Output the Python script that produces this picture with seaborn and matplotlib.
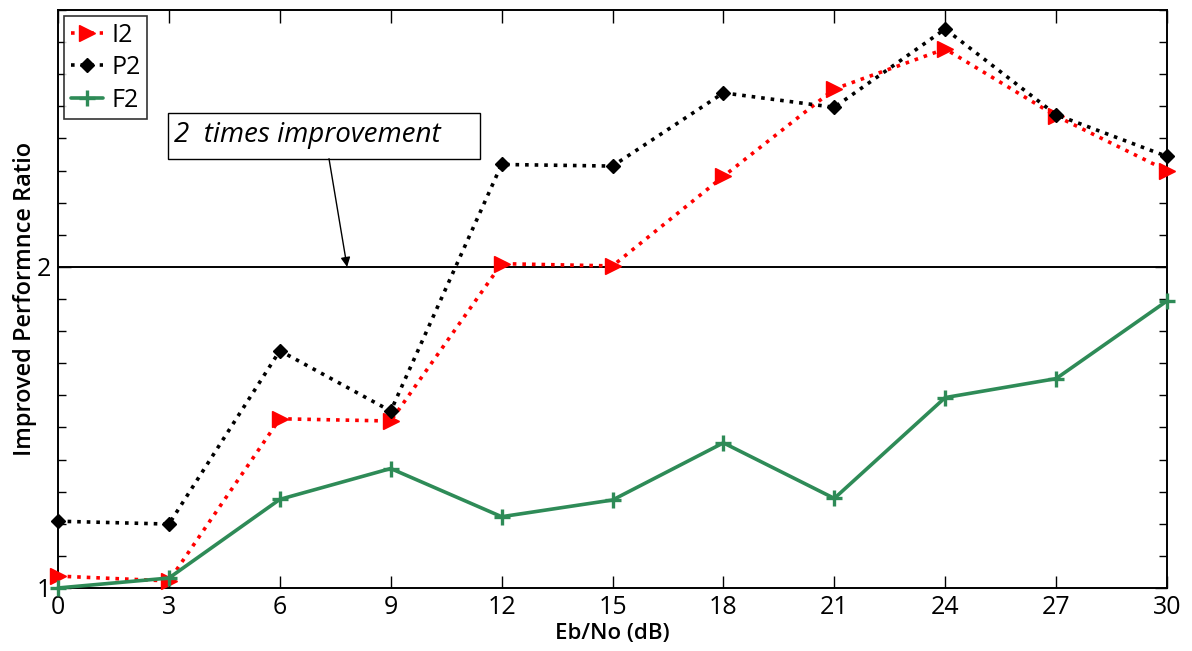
import numpy as np
import pandas as pd
import matplotlib
matplotlib.use("Agg")
import matplotlib.pyplot as plt
from matplotlib.patches import Rectangle
from matplotlib.ticker import MultipleLocator, FixedLocator
import seaborn as sns

# Eb/No values (dB)
ebno = [0, 3, 6, 9, 12, 15, 18, 21, 24, 27, 30]

# Improved performance ratio per scheme
i2 = [1.037, 1.022, 1.527, 1.520, 2.010, 2.003, 2.282, 2.554, 2.679, 2.470, 2.300]
p2 = [1.208, 1.199, 1.739, 1.551, 2.319, 2.314, 2.542, 2.497, 2.741, 2.474, 2.344]
f2 = [1.000, 1.031, 1.276, 1.372, 1.222, 1.274, 1.452, 1.279, 1.593, 1.652, 1.894]

series_names = ["I2", "P2", "F2"]
reference_level = 2.0
x_ticks = [0, 3, 6, 9, 12, 15, 18, 21, 24, 27, 30]
y_ticks = [1, 2]

df = pd.DataFrame({
    "ebno": ebno * 3,
    "ratio": i2 + p2 + f2,
    "scheme": [s for s in series_names for _ in ebno],
})

sns.set_theme(style="white")
plt.rcParams["font.family"] = ["Open Sans", "DejaVu Sans"]
for key in ("text.color", "axes.labelcolor", "xtick.color", "ytick.color"):
    plt.rcParams[key] = "black"

fig = plt.figure(figsize=(11.92, 6.51), dpi=100)
ax = fig.add_axes([0.0487, 0.0968, 0.9790 - 0.0487, 0.9846 - 0.0968])

styles = {
    "I2": dict(color="#ff0000", linestyle=":", marker=">", markersize=11, linewidth=2.6),
    "P2": dict(color="#000000", linestyle=":", marker="D", markersize=7, linewidth=2.6),
    "F2": dict(color="#2e8b57", linestyle="-", marker="+", markersize=12,
               linewidth=2.6, markeredgewidth=2.4),
}

for name in series_names:
    sub = df[df["scheme"] == name]
    st = styles[name]
    sns.lineplot(data=sub, x="ebno", y="ratio", ax=ax, label=name,
                 color=st["color"], linestyle=st["linestyle"],
                 marker=st["marker"], markersize=st["markersize"],
                 linewidth=st["linewidth"],
                 markeredgewidth=st.get("markeredgewidth", 1.0),
                 markeredgecolor=st["color"], clip_on=False, zorder=3)

ax.axhline(reference_level, color="black", linewidth=1.4, zorder=2)

ax.set_xlim(0, 30)
ax.set_ylim(1, 2.8)
ax.xaxis.set_major_locator(FixedLocator(x_ticks))
ax.yaxis.set_major_locator(FixedLocator(y_ticks))
ax.yaxis.set_minor_locator(MultipleLocator(0.1))
ax.set_xticklabels([str(t) for t in x_ticks])
ax.set_yticklabels([str(t) for t in y_ticks])

ax.tick_params(axis="both", which="both", direction="in", top=True, right=True,
               bottom=True, left=True, color="black", width=1.0)
ax.tick_params(axis="x", which="major", length=9, labelsize=18, pad=5)
ax.tick_params(axis="y", which="major", length=9, labelsize=18, pad=5)
ax.tick_params(axis="y", which="minor", length=6)

for sp in ax.spines.values():
    sp.set_color("black")
    sp.set_linewidth(1.4)

ax.set_xlabel("Eb/No (dB)", fontsize=16, fontweight="semibold", labelpad=2)
ax.set_ylabel("Improved Performnce Ratio", fontsize=17, fontweight="semibold", labelpad=0)

# annotation box with arrow pointing at the 2x reference line
ax.add_patch(Rectangle((2.98, 2.337), 11.42 - 2.98, 2.478 - 2.337,
                       facecolor="white", edgecolor="black", linewidth=1.0,
                       zorder=4))
ax.text(3.15, 2.41, "2  times improvement", fontsize=20, fontstyle="italic",
        va="center", ha="left", zorder=5)
ax.annotate("", xy=(7.82, reference_level), xytext=(7.33, 2.337),
            arrowprops=dict(arrowstyle="-|>", color="black", linewidth=1.0,
                            mutation_scale=14, shrinkA=0, shrinkB=0),
            zorder=4)

leg = ax.legend(loc="upper left", fontsize=18, frameon=True, fancybox=False,
                edgecolor="black", handlelength=1.3, borderpad=0.25,
                labelspacing=0.3, handletextpad=0.35, borderaxespad=0.25)
leg.get_frame().set_linewidth(1.2)

fig.savefig("out.png", dpi=100, facecolor="white")
